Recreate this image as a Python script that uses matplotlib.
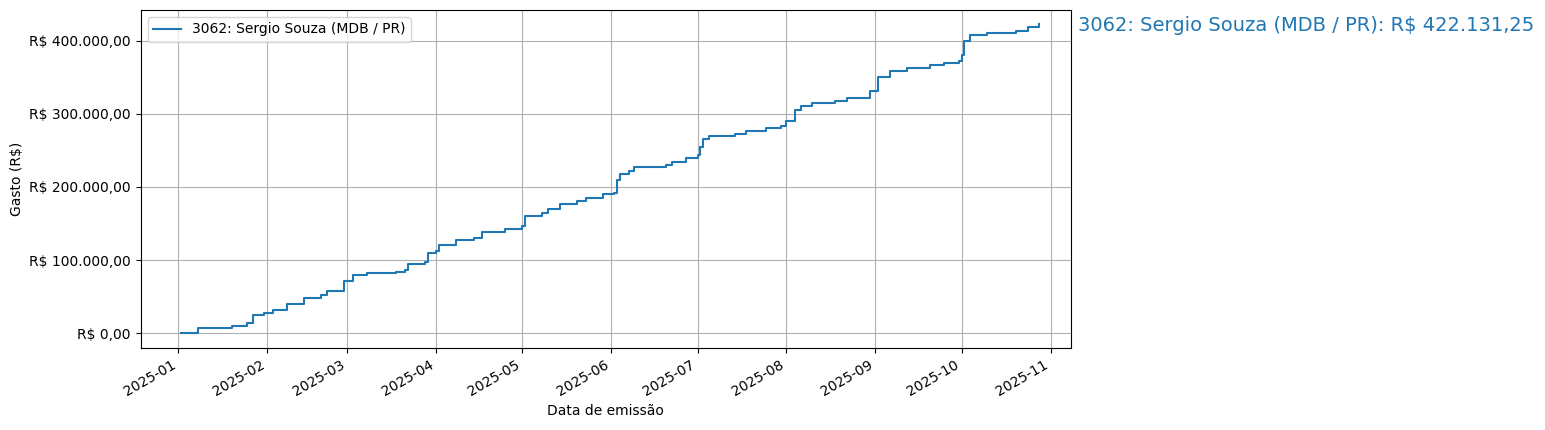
import pandas as pd
import matplotlib
matplotlib.use('Agg')
import matplotlib.pyplot as plt
from matplotlib.ticker import FuncFormatter

label = '3062: Sergio Souza (MDB / PR)'

datas = ['2025-01-02', '2025-01-08', '2025-01-20', '2025-01-25', '2025-01-27', '2025-01-31',
         '2025-02-03', '2025-02-08', '2025-02-14', '2025-02-20', '2025-02-22', '2025-02-28',
         '2025-03-03', '2025-03-08', '2025-03-18', '2025-03-21', '2025-03-22', '2025-03-28',
         '2025-03-29', '2025-04-01', '2025-04-02', '2025-04-08', '2025-04-14', '2025-04-17',
         '2025-04-25', '2025-05-01', '2025-05-02', '2025-05-08', '2025-05-10', '2025-05-14',
         '2025-05-20', '2025-05-23', '2025-05-29', '2025-06-02', '2025-06-03', '2025-06-04',
         '2025-06-07', '2025-06-09', '2025-06-20', '2025-06-22', '2025-06-27', '2025-07-01',
         '2025-07-02', '2025-07-03', '2025-07-05', '2025-07-14', '2025-07-18', '2025-07-25',
         '2025-07-30', '2025-08-01', '2025-08-04', '2025-08-06', '2025-08-10', '2025-08-18',
         '2025-08-22', '2025-08-30', '2025-09-02', '2025-09-06', '2025-09-12', '2025-09-20',
         '2025-09-25', '2025-09-30', '2025-10-01', '2025-10-02', '2025-10-04', '2025-10-10',
         '2025-10-20', '2025-10-24', '2025-10-28']
gasto = [0, 7000, 10000, 14000, 25000, 28000,
         32000, 40000, 48000, 52000, 58000, 72000,
         79000, 82000, 84000, 87000, 95000, 98000,
         110000, 112000, 120000, 128000, 130000, 139000,
         143000, 147000, 160000, 165000, 170000, 177000,
         181000, 185000, 190000, 192000, 210000, 217000,
         222000, 227000, 230000, 234000, 240000, 243000,
         255000, 265000, 270000, 273000, 276000, 280000,
         283000, 290000, 305000, 311000, 315000, 318000,
         321000, 331000, 350000, 358000, 362000, 366000,
         369000, 372000, 380000, 400000, 408000, 410000,
         413000, 418000, 422131.25]

df = pd.DataFrame({'data': pd.to_datetime(datas), 'gasto': gasto})


def brl(v, pos=None):
    s = f'{v:,.2f}'.replace(',', 'X').replace('.', ',').replace('X', '.')
    return f'R$ {s}'


fig = plt.figure(figsize=(15.45, 4.3), dpi=100)
ax = fig.add_axes([0.091, 0.191, 0.602, 0.786])
ax.plot(df['data'], df['gasto'], drawstyle='steps-post', label=label, color='#1f77b4')
ax.yaxis.set_major_formatter(FuncFormatter(brl))
ax.set_ylim(-20000, 442000)
ax.set_xlim(pd.Timestamp('2024-12-19'), pd.Timestamp('2025-11-08'))
ax.set_xticks(pd.date_range('2025-01-01', '2025-11-01', freq='MS'))
ax.xaxis.set_major_formatter(matplotlib.dates.DateFormatter('%Y-%m'))
for t in ax.get_xticklabels():
    t.set_rotation(30)
    t.set_ha('right')
ax.grid(True)
ax.set_xlabel('Data de emissão')
ax.set_ylabel('Gasto (R$)')
ax.legend(loc='upper left')
fig.text(0.698, 0.94, f'{label}: {brl(gasto[-1])}', fontsize=14, color='#1f77b4', va='center')
fig.savefig('out.png')
